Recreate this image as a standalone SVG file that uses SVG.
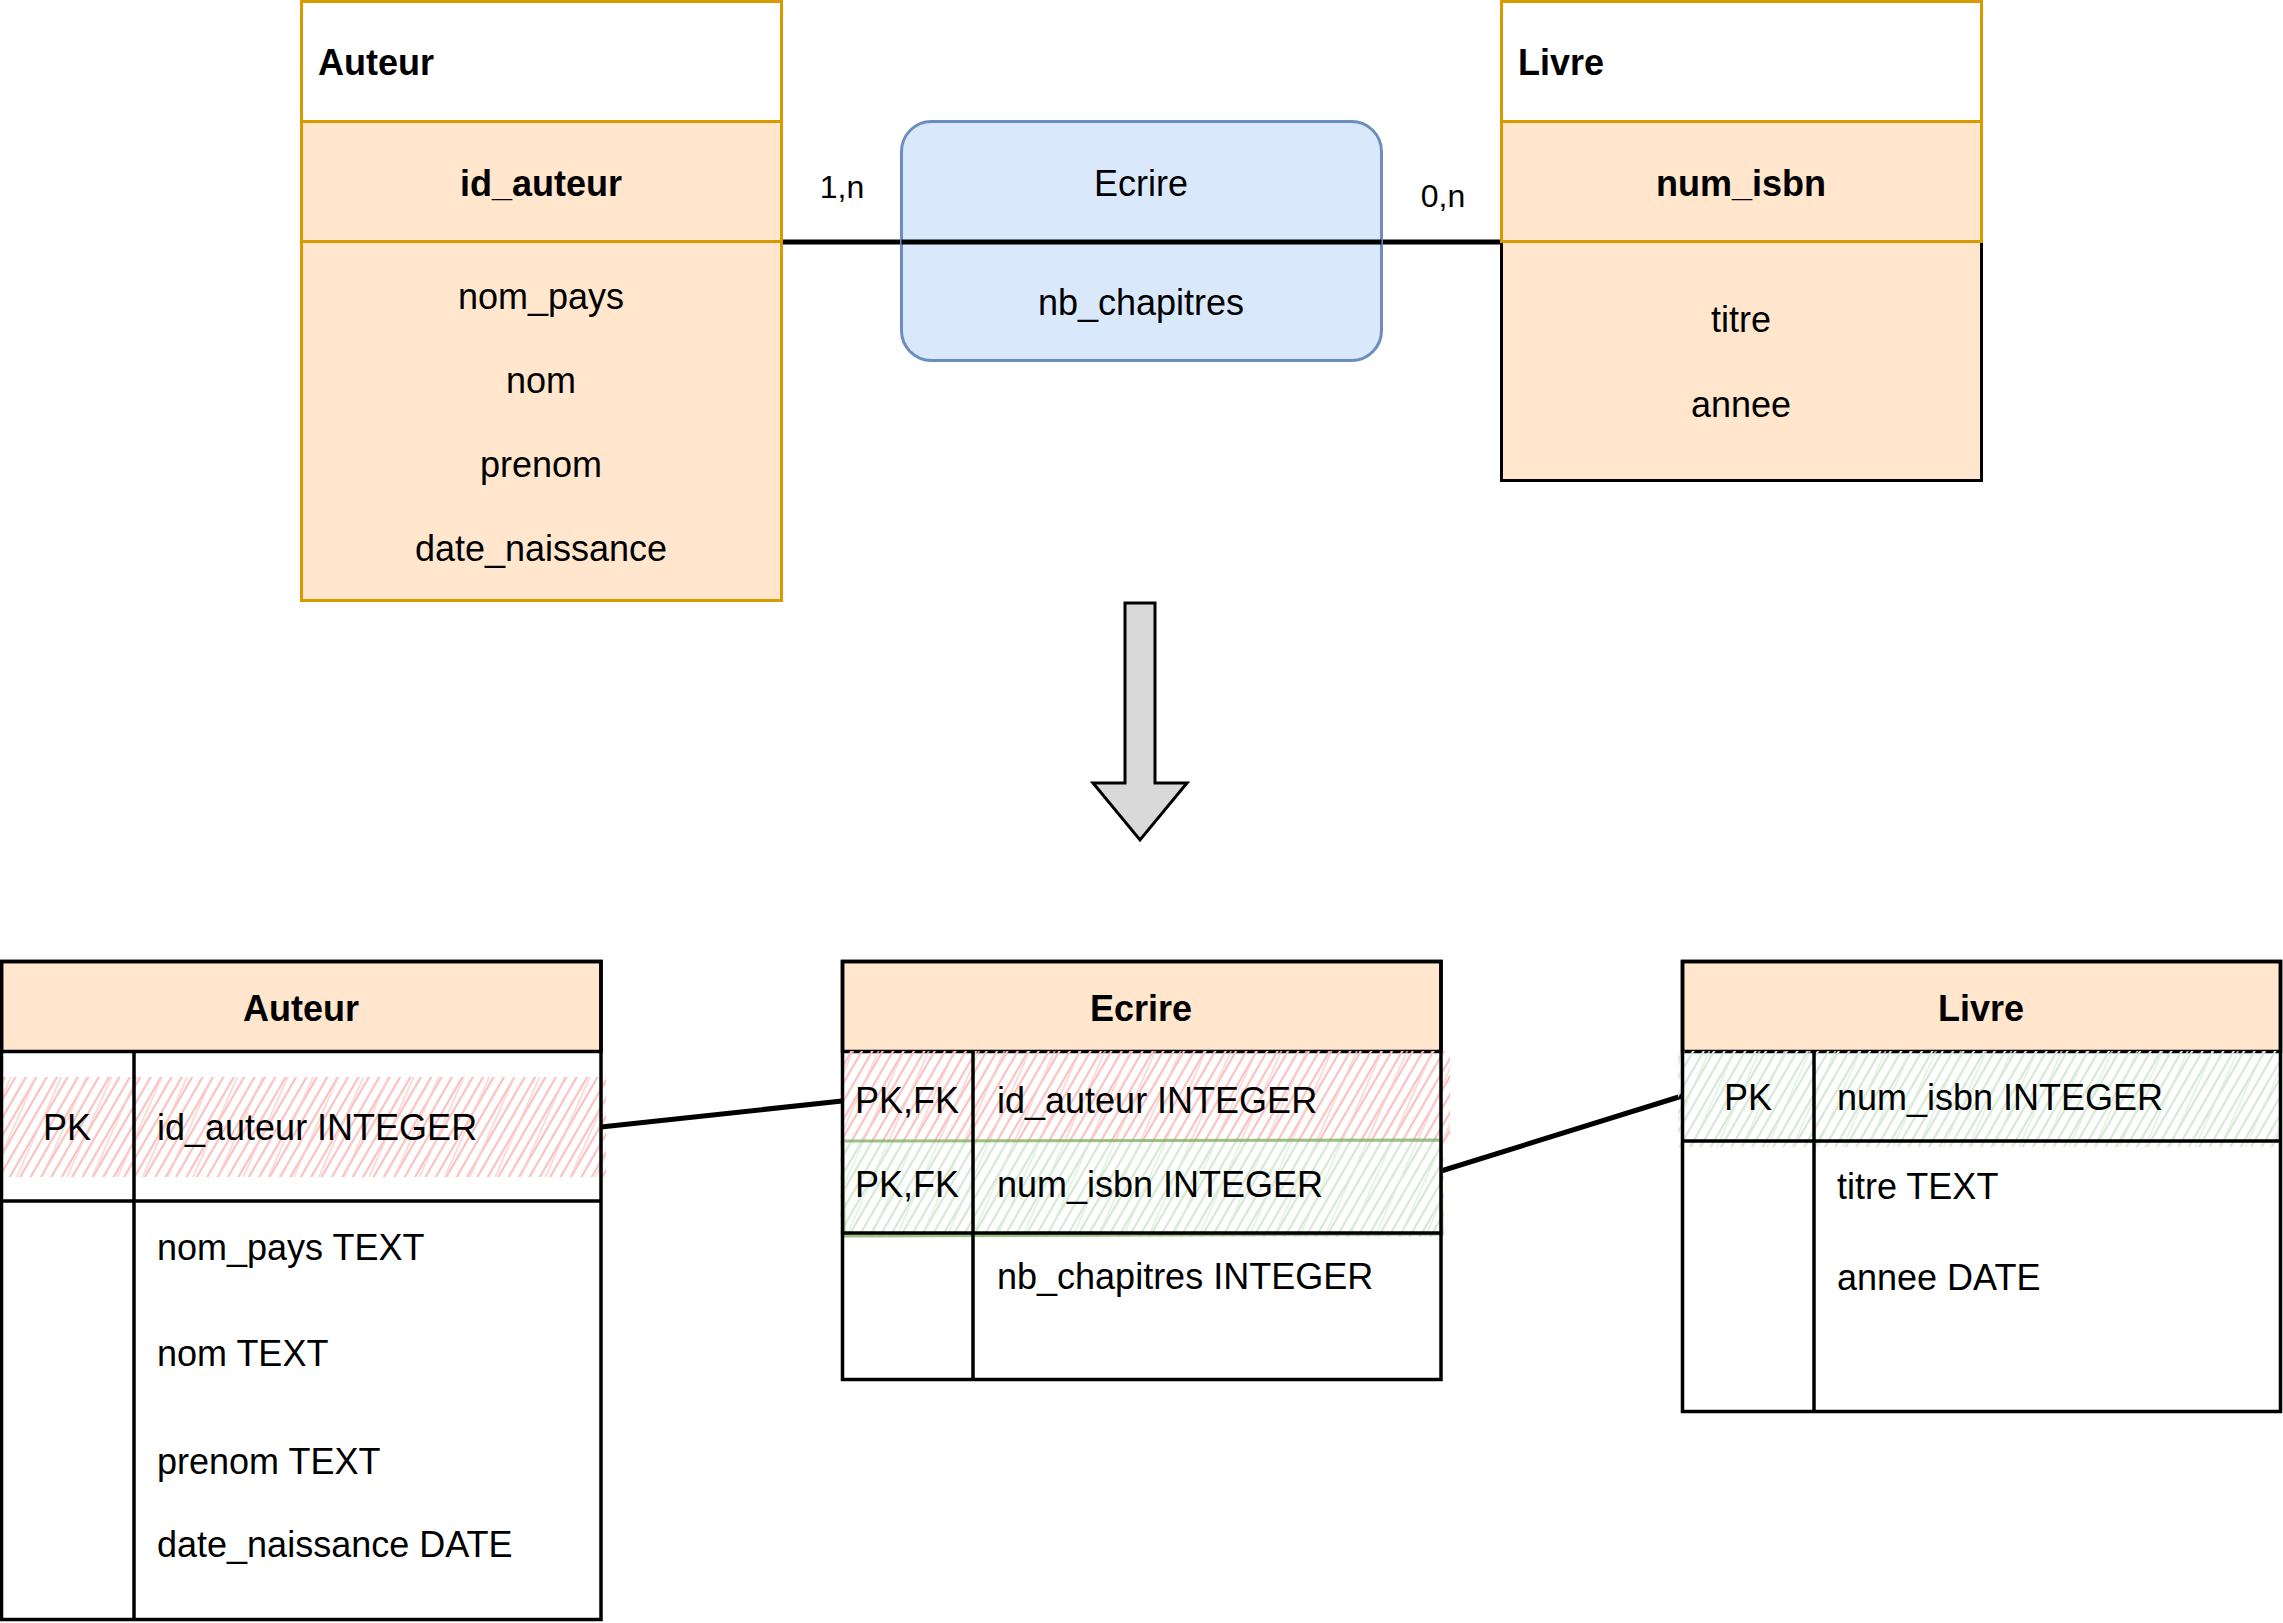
<svg xmlns="http://www.w3.org/2000/svg" width="2283" height="1623" viewBox="0 0 2283 1623">
<defs>
<style>
text{font-family:"Liberation Sans",Arial,Helvetica,sans-serif;font-size:36px;fill:#000}
.b{font-weight:bold}
.m{text-anchor:middle}
.sm{font-size:32px}
.ent{stroke:#D79B00;stroke-width:3}
.attr{fill:#FFE6CC}
.tb{fill:none;stroke:#000;stroke-width:3.5}
.hdr{fill:#FFE6CC;stroke:#000;stroke-width:3.5}
.conn{stroke:#000;stroke-width:5;fill:none}
</style>
<pattern id="hRed" patternUnits="userSpaceOnUse" width="9" height="9" patternTransform="rotate(30)">
<line x1="3" y1="0" x2="3" y2="9" stroke="#F8C2C0" stroke-width="2.2"/>
</pattern>
<pattern id="hRed2" patternUnits="userSpaceOnUse" width="23" height="23" patternTransform="rotate(24)">
<line x1="11" y1="0" x2="11" y2="23" stroke="#F8CECC" stroke-width="1.4"/>
</pattern>
<pattern id="hGreen" patternUnits="userSpaceOnUse" width="9" height="9" patternTransform="rotate(30)">
<line x1="3" y1="0" x2="3" y2="9" stroke="#D5E8D4" stroke-width="2.2"/>
</pattern>
<pattern id="hGreen2" patternUnits="userSpaceOnUse" width="23" height="23" patternTransform="rotate(24)">
<line x1="11" y1="0" x2="11" y2="23" stroke="#DDEEDA" stroke-width="1.4"/>
</pattern>
</defs>

<g id="connectors">
<line class="conn" x1="782" y1="242" x2="1501" y2="242"/>
<line class="conn" x1="601" y1="1127" x2="842" y2="1101"/>
<line class="conn" x1="1441" y1="1171" x2="1682" y2="1096"/>
</g>

<g id="er-auteur">
<rect x="301.5" y="1.5" width="480" height="120" fill="#FFFFFF" class="ent"/>
<rect x="301.5" y="121.5" width="480" height="120" class="attr ent"/>
<rect x="301.5" y="241.5" width="480" height="359" class="attr ent"/>
<text class="b" x="318" y="75">Auteur</text>
<text class="b m" x="541" y="196">id_auteur</text>
<text class="m" x="541" y="309">nom_pays</text>
<text class="m" x="541" y="393">nom</text>
<text class="m" x="541" y="477">prenom</text>
<text class="m" x="541" y="561">date_naissance</text>
</g>

<g id="er-ecrire">
<rect x="901.5" y="121.5" width="480" height="239" rx="30" ry="30" fill="#DAE8FC" stroke="#6C8EBF" stroke-width="3"/>
<line x1="901.5" y1="242" x2="1381.5" y2="242" class="conn"/>
<text class="m" x="1141" y="196">Ecrire</text>
<text class="m" x="1141" y="315">nb_chapitres</text>
</g>

<g id="er-livre">
<rect x="1501.5" y="241.5" width="480" height="239" class="attr" stroke="#000" stroke-width="3"/>
<rect x="1501.5" y="1.5" width="480" height="120" fill="#FFFFFF" class="ent"/>
<rect x="1501.5" y="121.5" width="480" height="120" class="attr ent"/>
<text class="b" x="1518" y="75">Livre</text>
<text class="b m" x="1741" y="196">num_isbn</text>
<text class="m" x="1741" y="332">titre</text>
<text class="m" x="1741" y="417">annee</text>
</g>

<g id="labels">
<text class="sm m" x="842" y="198">1,n</text>
<text class="sm m" x="1443" y="207">0,n</text>
</g>

<g id="transform-arrow">
<path d="M1125,603 L1155,603 L1155,783 L1187,783 L1140,840 L1093,783 L1125,783 Z" fill="#D9D9D9" stroke="#000" stroke-width="3" stroke-linejoin="miter"/>
</g>

<g id="tbl-auteur">
<rect x="1.5" y="961.5" width="599.5" height="90" class="hdr"/>
<rect x="0" y="1077" width="606" height="100" fill="url(#hRed)"/>
<rect x="0" y="1077" width="606" height="100" fill="url(#hRed2)"/>
<rect x="1.5" y="961.5" width="599.5" height="658" class="tb"/>
<line x1="1.5" y1="1201" x2="601" y2="1201" stroke="#000" stroke-width="3.5"/>
<line x1="134" y1="1051.5" x2="134" y2="1619.5" stroke="#000" stroke-width="3.5"/>
<text class="b m" x="301" y="1021">Auteur</text>
<text class="m" x="67" y="1140">PK</text>
<text x="157" y="1140">id_auteur INTEGER</text>
<text x="157" y="1260">nom_pays TEXT</text>
<text x="157" y="1366">nom TEXT</text>
<text x="157" y="1474">prenom TEXT</text>
<text x="157" y="1557">date_naissance DATE</text>
</g>

<g id="tbl-ecrire">
<rect x="842.5" y="961.5" width="598.5" height="90" class="hdr"/>
<rect x="842" y="1051" width="608" height="92" fill="url(#hRed)"/>
<rect x="842" y="1051" width="608" height="92" fill="url(#hRed2)"/>
<rect x="840" y="1141" width="604" height="96" fill="url(#hGreen)"/>
<rect x="840" y="1141" width="604" height="96" fill="url(#hGreen2)"/>
<path d="M843,1141 L1441,1140 L1442,1234 L844,1236 Z" fill="none" stroke="#82B366" stroke-width="3" stroke-opacity="0.8"/>
<rect x="842.5" y="961.5" width="598.5" height="418" class="tb"/>
<line x1="842.5" y1="1233" x2="1441" y2="1233" stroke="#000" stroke-width="3.5"/>
<line x1="973" y1="1051.5" x2="973" y2="1379.5" stroke="#000" stroke-width="3.5"/>
<text class="b m" x="1141" y="1021">Ecrire</text>
<text class="m" x="907" y="1113">PK,FK</text>
<text x="997" y="1113">id_auteur INTEGER</text>
<text class="m" x="907" y="1197">PK,FK</text>
<text x="997" y="1197">num_isbn INTEGER</text>
<text x="997" y="1289">nb_chapitres INTEGER</text>
</g>

<g id="tbl-livre">
<rect x="1682.5" y="961.5" width="598" height="90" class="hdr"/>
<rect x="1678" y="1051" width="603" height="96" fill="url(#hGreen)"/>
<rect x="1678" y="1051" width="603" height="96" fill="url(#hGreen2)"/>
<rect x="1682.5" y="961.5" width="598" height="450" class="tb"/>
<line x1="1682.5" y1="1141" x2="2280.5" y2="1141" stroke="#000" stroke-width="3.5"/>
<line x1="1814" y1="1051.5" x2="1814" y2="1411.5" stroke="#000" stroke-width="3.5"/>
<text class="b m" x="1981" y="1021">Livre</text>
<text class="m" x="1748" y="1110">PK</text>
<text x="1837" y="1110">num_isbn INTEGER</text>
<text x="1837" y="1199">titre TEXT</text>
<text x="1837" y="1290">annee DATE</text>
</g>
</svg>
